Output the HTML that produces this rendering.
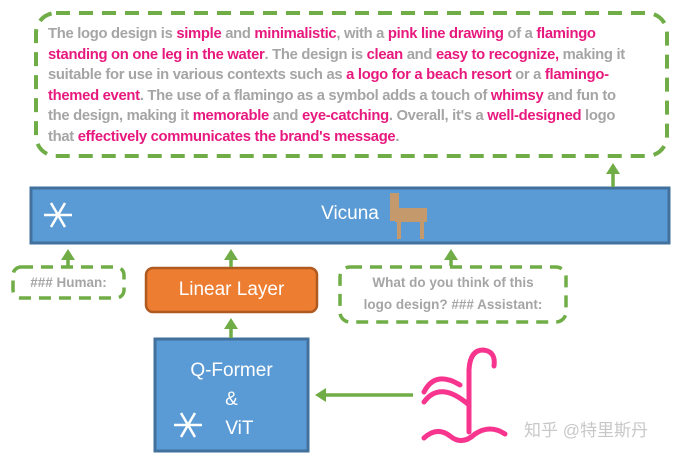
<!DOCTYPE html>
<html><head><meta charset="utf-8"><style>
html,body{margin:0;padding:0;background:#fff;width:700px;height:455px;overflow:hidden}
#wrap{position:relative;width:700px;height:455px;font-family:"Liberation Sans","Noto Sans CJK SC",sans-serif}
.para{position:absolute;left:48px;top:24px;width:620px;font-size:14.8px;line-height:20.6px;color:#a5a5a5;font-weight:bold;white-space:nowrap;letter-spacing:-0.3px}
.para b{color:#e8197e}
.lbl{position:absolute;color:#fff;font-size:19px;text-align:center}
.gray{position:absolute;color:#a5a5a5;font-weight:bold;font-size:13.5px;text-align:center;line-height:22px}
</style></head><body><div id="wrap">
<svg width="700" height="455" style="position:absolute;left:0;top:0">
<defs><marker id="ah" markerUnits="userSpaceOnUse" markerWidth="14" markerHeight="14" refX="2" refY="7" orient="auto"><path d="M0,0L11,7L0,14z" fill="#70ad47"/></marker></defs>
<rect x="36" y="13" width="631" height="143" rx="20" fill="none" stroke="#70ad47" stroke-width="4" stroke-dasharray="14,9"/>
<rect x="31" y="188" width="638" height="55" fill="#5b9bd5" stroke="#41719c" stroke-width="3"/>
<rect x="13" y="267" width="111" height="31" rx="8" fill="none" stroke="#70ad47" stroke-width="3.5" stroke-dasharray="12,8"/>
<rect x="146" y="268" width="171" height="44" rx="7" fill="#ed7d31" stroke="#ae5a21" stroke-width="2.5"/>
<rect x="340" y="267" width="226" height="55" rx="10" fill="none" stroke="#70ad47" stroke-width="3.5" stroke-dasharray="12,8"/>
<rect x="155" y="339" width="153" height="112" fill="#5b9bd5" stroke="#41719c" stroke-width="3"/>
<g stroke="#70ad47" stroke-width="3.5" fill="none">
<line x1="613" y1="187" x2="613" y2="172" marker-end="url(#ah)"/>
<line x1="68" y1="266" x2="68" y2="258" marker-end="url(#ah)"/>
<line x1="231" y1="267" x2="231" y2="258" marker-end="url(#ah)"/>
<line x1="451" y1="266" x2="451" y2="258" marker-end="url(#ah)"/>
<line x1="231" y1="338" x2="231" y2="327" marker-end="url(#ah)"/>
<line x1="413" y1="395" x2="324" y2="395" marker-end="url(#ah)"/>
</g>
<g stroke="#f7358f" stroke-width="5" fill="none" stroke-linecap="round">
<path d="M469,432 L469,370 Q470,350 483,350 Q496,351 494,366"/>
<path d="M424,402 Q440,380 469,405"/>
<path d="M424,392 Q435,370 460,385"/>
<path d="M424,438 Q437,426 450,436 Q462,446 475,434 Q490,424 505,434"/>
</g>
<g stroke="#fff" stroke-width="2.5" transform="translate(58,215)"><line x1="-14" y1="0" x2="14" y2="0"/><line x1="-7" y1="-12" x2="7" y2="12"/><line x1="7" y1="-12" x2="-7" y2="12"/></g>
<g stroke="#fff" stroke-width="2.5" transform="translate(188,425)"><line x1="-14" y1="0" x2="14" y2="0"/><line x1="-7" y1="-12" x2="7" y2="12"/><line x1="7" y1="-12" x2="-7" y2="12"/></g>
<g fill="#c49a6c"><rect x="395" y="208" width="32" height="14"/><rect x="390" y="193" width="9" height="28"/><rect x="397" y="220" width="4" height="19"/><rect x="420" y="220" width="4" height="19"/></g>
</svg>
<div class="para">The logo design is <b>simple</b> and <b>minimalistic</b>, with a <b>pink line drawing</b> of a <b>flamingo</b><br><b>standing on one leg in the water</b>. The design is <b>clean</b> and <b>easy to recognize,</b> making it<br>suitable for use in various contexts such as <b>a logo for a beach resort</b> or a <b>flamingo-</b><br><b>themed event</b>. The use of a flamingo as a symbol adds a touch of <b>whimsy</b> and fun to<br>the design, making it <b>memorable</b> and <b>eye-catching</b>. Overall, it's a <b>well-designed</b> logo<br>that <b>effectively communicates the brand's message</b>.</div>
<div class="lbl" style="left:300px;top:203px;width:100px">Vicuna</div>
<div class="lbl" style="left:146px;top:279px;width:171px">Linear Layer</div>
<div class="lbl" style="left:155px;top:356px;width:153px;line-height:29px">Q-Former<br>&amp;<br>&nbsp;&nbsp;&nbsp;ViT</div>
<div class="gray" style="left:13px;top:272px;width:111px">### Human:</div>
<div class="gray" style="left:340px;top:272px;width:226px">What do you think of this<br>logo design? ### Assistant:</div>
<div style="position:absolute;left:524px;top:416px;font-size:17px;color:#c8c8c8">知乎 @特里斯丹</div>
</div></body></html>
